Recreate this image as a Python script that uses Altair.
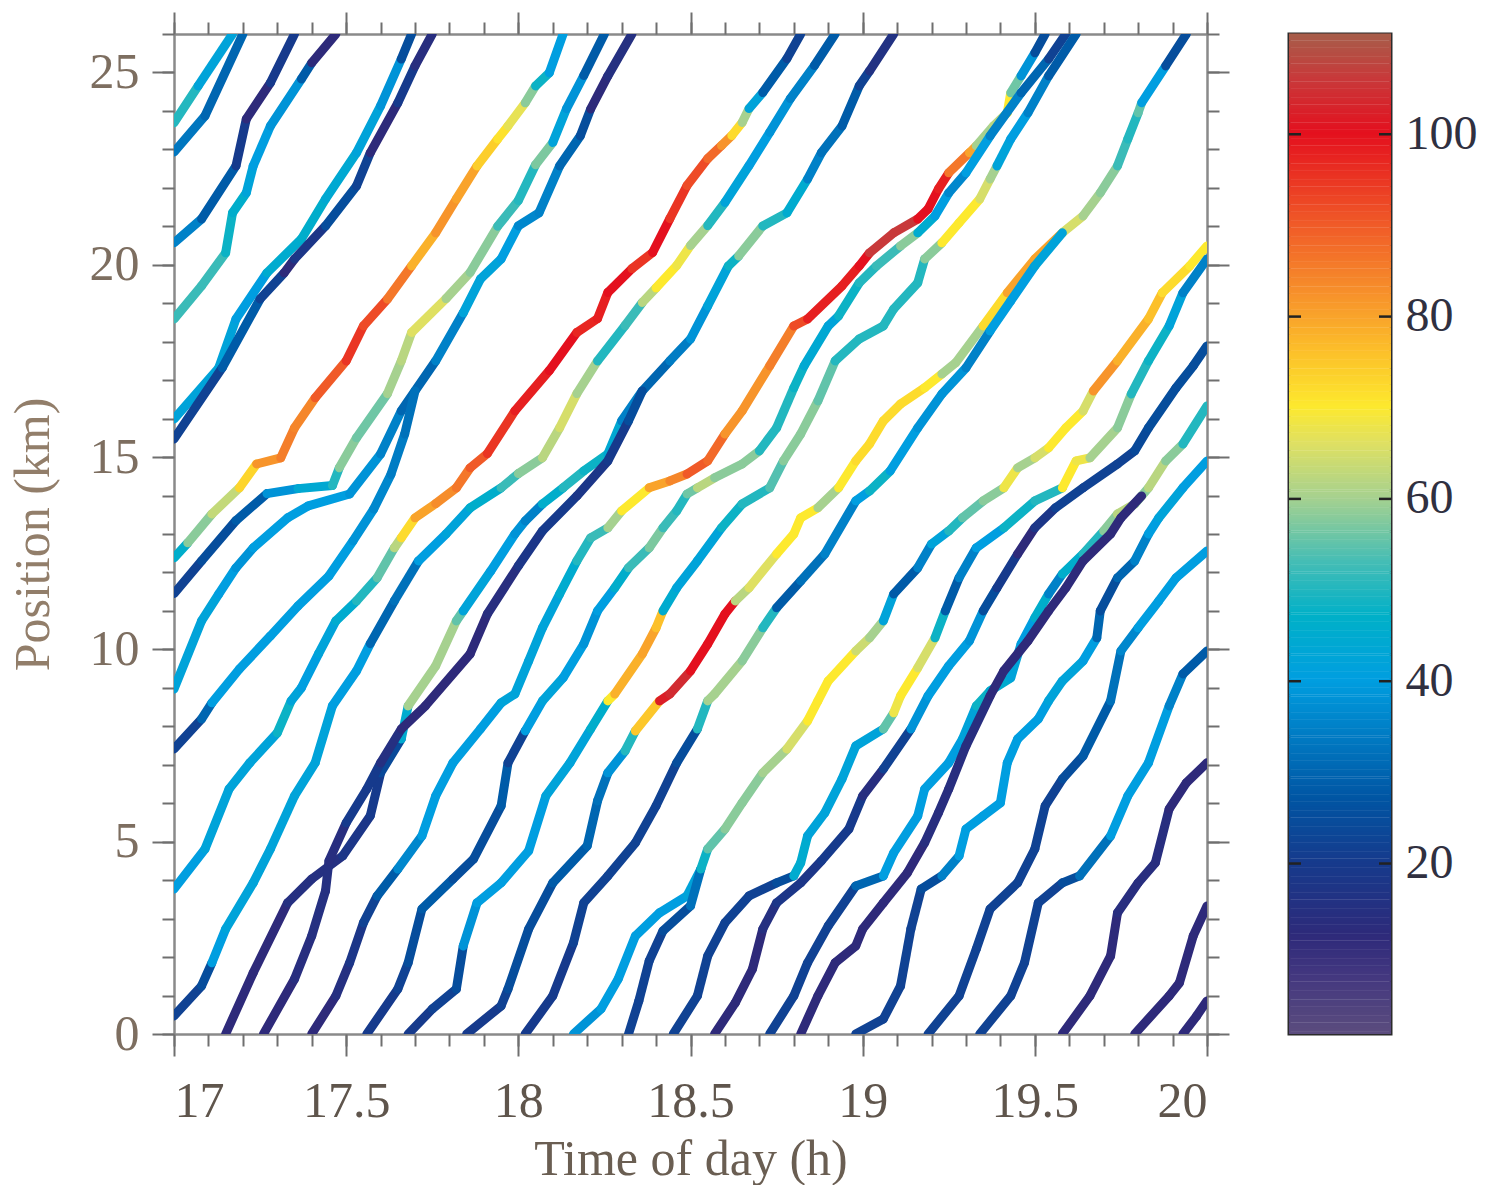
import altair as alt
import pandas as pd
import numpy as np

# ---------------- data: trajectories as (time of day [h], position [km], value) ----------------
L1 = [(17.00, 23.69, 50), (17.07, 24.65, 42), (17.17, 26.0, 38)]
L2 = [(17.00, 22.93, 33), (17.09, 23.87, 30), (17.20, 26.0, 25)]
L3 = [(17.00, 20.57, 35), (17.08, 21.19, 28), (17.18, 22.57, 20), (17.21, 23.79, 12), (17.28, 24.73, 20), (17.35, 26.0, 12)]
L4 = [(17.00, 18.59, 52), (17.08, 19.45, 52), (17.15, 20.31, 48), (17.17, 21.35, 46), (17.21, 21.87, 42), (17.23, 22.57, 40),
      (17.28, 23.61, 38), (17.37, 24.83, 28), (17.40, 25.25, 12), (17.47, 26.0, 12)]
L5 = [(17.00, 15.99, 42), (17.13, 17.32, 42), (17.18, 18.59, 40), (17.27, 19.79, 45), (17.37, 20.67, 46), (17.44, 21.71, 44),
      (17.53, 22.91, 42), (17.60, 24.13, 38), (17.66, 25.35, 25), (17.69, 26.0, 22)]
L6 = [(17.00, 15.47, 22), (17.14, 17.32, 28), (17.25, 19.11, 22), (17.32, 19.79, 12), (17.35, 20.15, 18), (17.44, 21.01, 25),
      (17.53, 22.05, 22), (17.57, 22.91, 12), (17.65, 24.21, 20), (17.70, 25.17, 14), (17.75, 26.0, 12)]
L7 = [(17.00, 12.38, 46), (17.04, 12.77, 58), (17.11, 13.52, 63), (17.19, 14.20, 73), (17.24, 14.82, 82), (17.31, 14.98, 85),
      (17.35, 15.76, 84), (17.41, 16.54, 90), (17.50, 17.50, 95), (17.55, 18.41, 92), (17.62, 19.11, 86), (17.69, 19.97, 78),
      (17.76, 20.83, 82), (17.82, 21.71, 80), (17.88, 22.57, 74), (17.94, 23.27, 71), (17.97, 23.61, 67), (18.02, 24.21, 58),
      (18.05, 24.65, 48), (18.09, 24.99, 40), (18.13, 26.0, 26)]
L8 = [(17.00, 11.45, 22), (17.08, 12.30, 25), (17.18, 13.35, 28), (17.27, 14.05, 38), (17.36, 14.18, 44), (17.46, 14.26, 50),
      (17.48, 14.72, 58), (17.53, 15.50, 56), (17.62, 16.65, 60), (17.66, 17.50, 62), (17.69, 18.24, 66), (17.79, 19.12, 60),
      (17.86, 19.80, 58), (17.94, 21.00, 52), (18.00, 21.67, 50), (18.05, 22.60, 57), (18.10, 23.18, 42), (18.14, 24.06, 38),
      (18.19, 24.92, 28), (18.25, 26.0, 14)]
L9 = [(17.00, 8.97, 42), (17.08, 10.74, 42), (17.13, 11.44, 40), (17.18, 12.12, 38), (17.23, 12.64, 40), (17.33, 13.42, 40),
      (17.39, 13.73, 40), (17.51, 14.04, 38), (17.60, 15.08, 35), (17.66, 16.20, 30), (17.76, 17.50, 35), (17.84, 18.75, 42),
      (17.89, 19.63, 42), (17.95, 20.15, 40), (18.00, 21.01, 36), (18.06, 21.35, 35), (18.12, 22.57, 30), (18.18, 23.35, 25),
      (18.21, 24.05, 12), (18.26, 24.91, 15), (18.33, 26.0, 12)]
L9b = [(17.00, 7.41, 22), (17.08, 8.19, 30), (17.11, 8.61, 40), (17.19, 9.49, 40), (17.28, 10.35, 40), (17.36, 11.13, 40),
       (17.45, 11.91, 40), (17.52, 12.82, 38), (17.58, 13.65, 36), (17.63, 14.55, 34), (17.67, 15.60, 32), (17.70, 16.72, 30)]
L10 = [(17.00, 3.77, 40), (17.09, 4.81, 42), (17.16, 6.37, 42), (17.22, 7.05, 42), (17.30, 7.83, 48), (17.34, 8.66, 42),
       (17.37, 9.00, 40), (17.42, 9.89, 42), (17.47, 10.74, 45), (17.53, 11.26, 50), (17.59, 11.86, 55), (17.64, 12.64, 62),
       (17.66, 12.90, 72), (17.70, 13.42, 80), (17.76, 13.79, 83), (17.82, 14.20, 86), (17.86, 14.72, 90), (17.91, 15.09, 95),
       (17.99, 16.20, 98), (18.09, 17.25, 100), (18.17, 18.24, 97), (18.23, 18.60, 98), (18.26, 19.28, 100), (18.33, 19.90, 95),
       (18.39, 20.32, 100), (18.44, 21.20, 95), (18.49, 22.06, 92), (18.55, 22.76, 88), (18.59, 23.10, 82), (18.62, 23.36, 72),
       (18.65, 23.70, 60), (18.67, 24.06, 42), (18.71, 24.48, 28), (18.78, 25.36, 22), (18.82, 26.0, 12)]
L11 = [(17.00, 0.47, 22), (17.08, 1.25, 25), (17.11, 1.85, 40), (17.15, 2.73, 42), (17.23, 3.93, 42), (17.28, 4.81, 42),
       (17.35, 6.19, 42), (17.41, 7.05, 42), (17.46, 8.53, 40), (17.53, 9.44, 40), (17.57, 10.15, 30), (17.64, 11.26, 32),
       (17.71, 12.30, 40), (17.79, 13.00, 42), (17.86, 13.68, 46), (17.95, 14.20, 52), (18.00, 14.57, 58), (18.07, 14.98, 62),
       (18.12, 15.76, 65), (18.17, 16.65, 60), (18.23, 17.50, 50), (18.31, 18.42, 52), (18.36, 19.02, 62), (18.40, 19.40, 70),
       (18.46, 19.98, 68), (18.50, 20.50, 60), (18.55, 21.02, 50), (18.60, 21.62, 42), (18.67, 22.58, 40), (18.73, 23.44, 38),
       (18.79, 24.32, 35), (18.86, 25.18, 28), (18.92, 26.0, 22)]
L12 = [(17.15, 0.0, 12), (17.23, 1.59, 12), (17.33, 3.41, 15), (17.40, 4.03, 15), (17.49, 4.63, 18), (17.57, 5.67, 20),
       (17.60, 6.79, 24), (17.66, 7.67, 45), (17.68, 8.53, 60), (17.76, 9.57, 60), (17.82, 10.74, 55), (17.84, 11.00, 42),
       (17.92, 12.04, 40), (17.99, 13.00, 38), (18.02, 13.34, 35), (18.07, 13.78, 46), (18.13, 14.20, 50), (18.19, 14.64, 48),
       (18.26, 15.08, 44), (18.30, 15.94, 35), (18.36, 16.72, 30), (18.44, 17.50, 34), (18.50, 18.07, 38), (18.55, 18.93, 42),
       (18.61, 19.97, 48), (18.64, 20.23, 58), (18.71, 21.01, 50), (18.78, 21.35, 45), (18.84, 22.23, 35), (18.88, 22.91, 32),
       (18.94, 23.61, 28), (18.99, 24.65, 22), (19.02, 25.04, 16), (19.09, 26.0, 12)]
L12b = [(17.26, 0.0, 12), (17.35, 1.43, 14), (17.40, 2.55, 15), (17.44, 3.72, 15), (17.45, 4.50, 14), (17.50, 5.49, 20),
        (17.56, 6.37, 20), (17.60, 7.05, 15), (17.66, 7.93, 12), (17.73, 8.53, 12), (17.86, 9.88, 12), (17.91, 10.92, 14),
        (18.00, 12.17, 18), (18.07, 13.08, 20), (18.17, 13.99, 18), (18.26, 14.90, 20), (18.32, 15.94, 25), (18.36, 16.72, 30)]
L13 = [(17.40, 0.0, 12), (17.47, 0.99, 15), (17.51, 1.85, 18), (17.55, 2.89, 22), (17.59, 3.59, 28), (17.65, 4.29, 36),
       (17.72, 5.15, 40), (17.76, 6.19, 40), (17.81, 7.05, 40), (17.89, 7.93, 40), (17.95, 8.61, 42), (17.99, 8.84, 42),
       (18.03, 9.70, 42), (18.07, 10.56, 42), (18.12, 11.44, 45), (18.17, 12.30, 50), (18.21, 12.90, 52), (18.26, 13.16, 60),
       (18.30, 13.60, 70), (18.38, 14.20, 80), (18.44, 14.38, 84), (18.49, 14.56, 90), (18.55, 14.90, 88), (18.60, 15.60, 82),
       (18.65, 16.20, 82), (18.73, 17.37, 85), (18.80, 18.41, 92), (18.84, 18.59, 98), (18.94, 19.45, 98), (18.99, 19.97, 100),
       (19.02, 20.31, 106), (19.09, 20.83, 106), (19.16, 21.19, 100), (19.19, 21.45, 100), (19.22, 21.97, 98), (19.25, 22.39, 86),
       (19.31, 22.91, 80), (19.33, 23.09, 60), (19.38, 23.61, 62), (19.42, 23.95, 70), (19.43, 24.47, 56), (19.46, 24.91, 38),
       (19.50, 25.51, 25), (19.53, 26.0, 12)]
L14 = [(17.56, 0.0, 20), (17.65, 1.17, 22), (17.68, 1.85, 25), (17.72, 3.25, 28), (17.81, 4.03, 25), (17.87, 4.55, 25),
       (17.95, 5.93, 28), (17.97, 7.05, 22), (18.02, 7.88, 40), (18.07, 8.66, 42), (18.13, 9.26, 40), (18.19, 10.14, 38),
       (18.23, 11.00, 40), (18.28, 11.60, 46), (18.32, 12.12, 52), (18.38, 12.64, 57), (18.42, 13.16, 52), (18.46, 13.60, 50),
       (18.49, 14.04, 56), (18.52, 14.20, 62), (18.57, 14.46, 58), (18.65, 14.82, 58), (18.70, 15.16, 50), (18.75, 15.76, 50),
       (18.80, 16.80, 48), (18.83, 17.37, 44), (18.90, 18.41, 42), (18.93, 18.67, 48), (18.99, 19.53, 50), (19.04, 19.97, 52),
       (19.11, 20.49, 58), (19.16, 20.83, 45), (19.21, 21.27, 40), (19.25, 21.87, 36), (19.30, 22.39, 40), (19.37, 23.35, 35),
       (19.46, 24.47, 30), (19.54, 25.35, 22), (19.59, 26.0, 12)]
L15 = [(17.68, 0.0, 20), (17.75, 0.65, 22), (17.82, 1.17, 25), (17.84, 2.29, 38), (17.88, 3.41, 40), (17.95, 3.93, 40),
       (18.03, 4.76, 40), (18.08, 6.19, 42), (18.15, 7.05, 42), (18.21, 7.93, 46), (18.26, 8.66, 70), (18.28, 8.84, 78),
       (18.36, 9.88, 80), (18.40, 10.56, 76), (18.42, 11.00, 45), (18.46, 11.60, 42), (18.52, 12.30, 42), (18.59, 13.16, 48),
       (18.65, 13.78, 50), (18.73, 14.20, 54), (18.77, 14.90, 58), (18.82, 15.60, 58), (18.87, 16.46, 55), (18.92, 17.50, 50),
       (18.99, 18.07, 50), (19.06, 18.41, 50), (19.09, 18.85, 50), (19.16, 19.53, 50), (19.18, 20.15, 58), (19.23, 20.57, 70),
       (19.28, 21.09, 70), (19.34, 21.71, 65), (19.37, 22.23, 60), (19.39, 22.57, 42), (19.43, 23.27, 40), (19.48, 23.95, 35),
       (19.54, 24.91, 28), (19.62, 26.0, 12)]
L16 = [(17.85, 0.0, 20), (17.95, 0.73, 22), (17.97, 1.17, 25), (18.03, 2.73, 25), (18.10, 3.93, 28), (18.20, 4.89, 30),
       (18.23, 6.06, 32), (18.26, 6.79, 38), (18.31, 7.36, 50), (18.34, 7.88, 75), (18.41, 8.66, 102), (18.44, 8.84, 104),
       (18.50, 9.44, 100), (18.55, 10.14, 100), (18.60, 10.92, 100), (18.63, 11.26, 62), (18.67, 11.60, 66), (18.75, 12.48, 70),
       (18.80, 13.00, 70), (18.82, 13.42, 70), (18.87, 13.68, 60), (18.93, 14.20, 70), (18.98, 14.90, 72), (19.02, 15.34, 72),
       (19.06, 15.94, 72), (19.11, 16.38, 72), (19.18, 16.80, 70), (19.23, 17.16, 60), (19.27, 17.45, 60), (19.35, 18.41, 72),
       (19.42, 19.27, 80), (19.50, 20.15, 80), (19.58, 20.83, 65), (19.64, 21.27, 60), (19.69, 21.87, 58), (19.74, 22.57, 52),
       (19.77, 23.27, 50), (19.80, 23.95, 55), (19.81, 24.21, 40), (19.88, 25.17, 25), (19.94, 26.0, 12)]
L16b = [(18.02, 0.0, 20), (18.10, 0.99, 20), (18.16, 2.37, 22), (18.19, 3.41, 22), (18.26, 4.11, 22), (18.34, 4.97, 22),
        (18.40, 5.93, 22), (18.46, 7.05, 25), (18.52, 7.93, 50), (18.55, 8.66, 60), (18.57, 8.84, 60), (18.65, 9.70, 58),
        (18.71, 10.56, 50), (18.75, 11.08, 28), (18.82, 11.78, 32), (18.89, 12.48, 35), (18.98, 13.86, 40), (19.02, 14.12, 48),
        (19.08, 14.64, 40), (19.16, 15.76, 38), (19.23, 16.64, 38), (19.30, 17.32, 35), (19.37, 18.28, 40), (19.43, 19.06, 40),
        (19.50, 19.97, 42), (19.58, 20.83, 65)]
L17b = [(18.16, 0.0, 38), (18.24, 0.65, 40), (18.29, 1.43, 40), (18.34, 2.55, 40), (18.41, 3.15, 40), (18.49, 3.59, 42),
        (18.53, 4.29, 48)]
L17 = [(18.32, 0.0, 22), (18.35, 0.86, 22), (18.38, 1.90, 22), (18.42, 2.68, 25), (18.50, 3.33, 32), (18.53, 4.29, 48),
       (18.55, 4.81, 55), (18.60, 5.33, 58), (18.65, 6.01, 58), (18.71, 6.79, 60), (18.78, 7.41, 65), (18.84, 8.14, 70),
       (18.87, 8.66, 70), (18.90, 9.18, 70), (18.98, 9.96, 64), (19.02, 10.30, 60), (19.06, 10.74, 42), (19.09, 11.44, 28),
       (19.16, 12.12, 35), (19.20, 12.74, 42), (19.25, 13.08, 50), (19.29, 13.42, 55), (19.35, 13.86, 58), (19.41, 14.20, 68),
       (19.45, 14.72, 60), (19.50, 14.98, 65), (19.54, 15.24, 70), (19.59, 15.76, 70), (19.64, 16.20, 65), (19.67, 16.72, 82),
       (19.74, 17.50, 78), (19.83, 18.59, 76), (19.87, 19.27, 72), (19.95, 19.97, 70), (20.0, 20.49, 70)]
L18 = [(18.45, 0.0, 22), (18.52, 0.99, 22), (18.55, 2.03, 22), (18.60, 2.89, 22), (18.67, 3.59, 22), (18.75, 3.93, 25),
       (18.80, 4.11, 45), (18.82, 4.45, 45), (18.84, 5.15, 42), (18.89, 5.75, 42), (18.94, 6.63, 42), (18.98, 7.49, 42),
       (19.06, 7.93, 55), (19.09, 8.35, 68), (19.11, 8.79, 70), (19.16, 9.52, 65), (19.21, 10.30, 48), (19.24, 11.00, 28),
       (19.28, 11.86, 35), (19.33, 12.64, 40), (19.41, 13.16, 48), (19.50, 13.86, 50), (19.58, 14.20, 70), (19.62, 14.90, 68),
       (19.66, 14.98, 60), (19.74, 15.76, 58), (19.78, 16.64, 50), (19.83, 17.50, 48), (19.89, 18.41, 42), (19.93, 19.27, 35),
       (20.0, 20.15, 35)]
L19 = [(18.57, 0.0, 12), (18.63, 0.81, 12), (18.68, 1.69, 12), (18.71, 2.73, 15), (18.75, 3.41, 18), (18.82, 3.93, 18),
       (18.88, 4.50, 20), (18.96, 5.33, 20), (19.00, 6.19, 14), (19.06, 6.89, 22), (19.14, 7.93, 38), (19.19, 8.79, 40),
       (19.25, 9.57, 40), (19.31, 10.22, 38), (19.35, 11.00, 25), (19.39, 11.60, 20), (19.45, 12.48, 12), (19.50, 13.16, 18),
       (19.56, 13.68, 22), (19.64, 14.20, 22), (19.74, 14.82, 22), (19.79, 15.16, 24), (19.83, 15.76, 25), (19.91, 16.80, 25),
       (19.96, 17.37, 25), (20.0, 17.89, 25)]
L20 = [(18.73, 0.0, 22), (18.80, 0.99, 22), (18.84, 1.85, 22), (18.90, 2.81, 22), (18.98, 3.85, 30), (19.06, 4.11, 40),
       (19.09, 4.71, 40), (19.16, 5.67, 40), (19.18, 6.37, 40), (19.25, 7.05, 40), (19.29, 7.67, 42), (19.33, 8.53, 48),
       (19.37, 8.92, 45), (19.43, 9.26, 42), (19.46, 10.14, 40), (19.50, 10.82, 46), (19.54, 11.44, 35), (19.58, 11.96, 46),
       (19.64, 12.48, 50), (19.70, 13.08, 58), (19.74, 13.52, 62), (19.79, 13.78, 58), (19.83, 14.20, 62), (19.88, 14.90, 58),
       (19.93, 15.34, 50), (20.0, 16.33, 48)]
L20b = [(18.82, 0.0, 12), (18.87, 0.99, 12), (18.92, 1.85, 12), (18.98, 2.29, 12), (19.00, 2.73, 12), (19.06, 3.41, 12),
        (19.13, 4.19, 12), (19.18, 4.97, 14), (19.22, 5.75, 14), (19.25, 6.37, 14), (19.30, 7.49, 14), (19.37, 8.79, 12),
        (19.41, 9.44, 12), (19.48, 10.22, 12), (19.54, 11.00, 12), (19.59, 11.60, 12), (19.64, 12.30, 12), (19.72, 13.00, 12),
        (19.75, 13.42, 12), (19.81, 13.99, 12)]
L21 = [(18.98, 0.0, 22), (19.06, 0.39, 22), (19.11, 1.25, 22), (19.14, 2.73, 22), (19.17, 3.77, 25), (19.23, 4.11, 35),
       (19.28, 4.63, 40), (19.30, 5.33, 40), (19.35, 5.67, 40), (19.40, 6.01, 40), (19.42, 7.05, 40), (19.45, 7.67, 40),
       (19.51, 8.19, 40), (19.54, 8.66, 42), (19.58, 9.18, 42), (19.64, 9.70, 40), (19.68, 10.30, 30), (19.69, 11.00, 25),
       (19.74, 11.86, 30), (19.79, 12.30, 35), (19.83, 13.00, 40), (19.86, 13.42, 42), (19.93, 14.20, 40), (20.0, 14.90, 40)]
L22 = [(19.19, 0.0, 22), (19.28, 0.99, 22), (19.33, 2.21, 22), (19.37, 3.25, 22), (19.45, 3.93, 22), (19.50, 4.81, 22),
       (19.53, 5.93, 22), (19.58, 6.63, 25), (19.64, 7.23, 28), (19.72, 8.66, 32), (19.75, 9.96, 36), (19.80, 10.56, 40),
       (19.86, 11.26, 40), (19.91, 11.86, 40), (20.0, 12.56, 42)]
L23 = [(19.34, 0.0, 22), (19.43, 0.99, 22), (19.47, 1.85, 22), (19.51, 3.41, 22), (19.58, 3.93, 25), (19.63, 4.11, 32),
       (19.72, 5.15, 40), (19.77, 6.19, 40), (19.83, 7.05, 40), (19.89, 8.53, 35), (19.93, 9.36, 28), (20.0, 9.96, 25)]
L24 = [(19.58, 0.0, 12), (19.66, 0.99, 12), (19.72, 2.03, 12), (19.74, 3.15, 14), (19.80, 3.93, 14), (19.85, 4.45, 14),
       (19.89, 5.85, 12), (19.94, 6.53, 12), (20.0, 7.05, 12)]
L25 = [(19.79, 0.0, 12), (19.89, 0.99, 12), (19.92, 1.33, 12), (19.96, 2.55, 12), (20.0, 3.33, 12)]
L26 = [(19.93, 0.0, 12), (19.97, 0.47, 12), (20.0, 0.86, 12)]

trajectories = [L1, L2, L3, L4, L5, L6, L7, L8, L9, L9b, L10, L11, L12, L12b, L13, L14, L15, L16, L16b,
                L17b, L17, L18, L19, L20, L20b, L21, L22, L23, L24, L25, L26]

x_major = [17, 17.5, 18, 18.5, 19, 19.5, 20]
x_minor = [17.0, 17.1, 17.2, 17.3, 17.4, 17.5, 17.6, 17.7, 17.8, 17.9, 18.0, 18.1, 18.2, 18.3, 18.4, 18.5,
           18.6, 18.7, 18.8, 18.9, 19.0, 19.1, 19.2, 19.3, 19.4, 19.5, 19.6, 19.7, 19.8, 19.9, 20.0]
y_major = [0, 5, 10, 15, 20, 25]
y_minor = [0, 1, 2, 3, 4, 5, 6, 7, 8, 9, 10, 11, 12, 13, 14, 15, 16, 17, 18, 19, 20, 21, 22, 23, 24, 25, 26]
cb_ticks = [20, 40, 60, 80, 100]
cb_min, cb_max = 1.3, 111.0

# colour map
cmap_stops = [1.3, 8, 12, 20, 27, 33, 40, 47, 53, 60, 66, 70, 76, 82, 90, 100, 106, 111]
cmap_colors = ["#5b4c7e", "#41367f", "#2e2a7a", "#163a8c", "#0055a3", "#0076bf", "#009ee0", "#00b0c8",
               "#45bdb5", "#a6d18f", "#dfe062", "#fde92e", "#fcc02a", "#f7942b", "#f05a28", "#e4101e",
               "#c8393a", "#a65e4a"]

# ---------------- build segments ----------------
rows = []
for k, tr in enumerate(trajectories):
    for i in range(len(tr) - 1):
        t0, y0, v = tr[i]
        t1, y1, _ = tr[i + 1]
        rows.append({"traj": k, "seg": i, "t": t0, "y": y0, "t2": t1, "y2": y1, "v": v})
seg = pd.DataFrame(rows)

FONT = "Liberation Serif"
TICK_C = "#6f6f6f"
DOM_C = "#8a8a8a"

xs = alt.Scale(domain=[17, 20], nice=False, zero=False)
ys = alt.Scale(domain=[0, 26], nice=False, zero=False)
cscale = alt.Scale(domain=cmap_stops, range=cmap_colors, interpolate="rgb")

common = dict(tickColor=TICK_C, tickWidth=2, domainColor=DOM_C, domainWidth=2.5, grid=False,
              labelFont=FONT, titleFont=FONT, labelFontSize=50, titleFontSize=50, titleFontWeight="normal")

base = alt.Chart(seg)

lines = base.mark_rule(strokeWidth=9, strokeCap="round", clip=True).encode(
    x=alt.X("t:Q", scale=xs, axis=alt.Axis(orient="bottom", values=x_major, tickSize=22, format="~g",
                                            labelPadding=20, labelColor="#5f554c", title="Time of day (h)",
                                            titleColor="#6a5e52", titlePadding=8, labelOverlap=False, **common)),
    x2="t2:Q",
    y=alt.Y("y:Q", scale=ys, axis=alt.Axis(orient="left", values=y_major, tickSize=22, format="d",
                                            labelPadding=13, labelColor="#7d6e60", title="Position (km)",
                                            titleColor="#927e6a", titlePadding=31, labelOverlap=False, **common)),
    y2="y2:Q",
    color=alt.Color("v:Q", scale=cscale, legend=None),
)


def ghost(xaxis, yaxis):
    return base.mark_point(opacity=0, size=1).encode(
        x=alt.X("t:Q", scale=xs, axis=xaxis),
        y=alt.Y("y:Q", scale=ys, axis=yaxis),
    )


minor_bl = ghost(
    alt.Axis(orient="bottom", values=x_minor, tickSize=12, labels=False, domain=False, title=None,
             tickColor=TICK_C, tickWidth=2, grid=False),
    alt.Axis(orient="left", values=y_minor, tickSize=12, labels=False, domain=False, title=None,
             tickColor=TICK_C, tickWidth=2, grid=False),
)
major_tr = ghost(
    alt.Axis(orient="top", values=x_major, tickSize=22, labels=False, title=None,
             tickColor=TICK_C, tickWidth=2, domainColor=DOM_C, domainWidth=2.5, grid=False),
    alt.Axis(orient="right", values=y_major, tickSize=22, labels=False, title=None,
             tickColor=TICK_C, tickWidth=2, domainColor=DOM_C, domainWidth=2.5, grid=False),
)
minor_tr = ghost(
    alt.Axis(orient="top", values=x_minor, tickSize=12, labels=False, domain=False, title=None,
             tickColor=TICK_C, tickWidth=2, grid=False),
    alt.Axis(orient="right", values=y_minor, tickSize=12, labels=False, domain=False, title=None,
             tickColor=TICK_C, tickWidth=2, grid=False),
)

main = alt.layer(lines, minor_bl, major_tr, minor_tr).resolve_axis(
    x="independent", y="independent").properties(width=1033, height=1000)

# ---------------- colour bar ----------------
CBW = 102
levels = np.linspace(cb_min, cb_max, 440)
cb_df = pd.DataFrame({"v": levels[:-1], "v2": levels[1:] + 0.05})
cbs = alt.Scale(domain=[cb_min, cb_max], nice=False, zero=False)

bar = alt.Chart(cb_df).mark_rect().encode(
    y=alt.Y("v:Q", scale=cbs, axis=alt.Axis(orient="right", values=cb_ticks, tickSize=0, domain=False,
                                            labelPadding=14, format="d", title=None, grid=False,
                                            labelFont=FONT, labelFontSize=48, labelColor="#303040")),
    y2="v2:Q",
    x=alt.value(0),
    x2=alt.value(CBW),
    color=alt.Color("v:Q", scale=cscale, legend=None),
)
tick_df = pd.DataFrame({"v": cb_ticks})
tick_l = alt.Chart(tick_df).mark_rule(color="#222222", strokeWidth=2.5).encode(
    y=alt.Y("v:Q", scale=cbs, axis=None), x=alt.value(0), x2=alt.value(12))
tick_r = alt.Chart(tick_df).mark_rule(color="#222222", strokeWidth=2.5).encode(
    y=alt.Y("v:Q", scale=cbs, axis=None), x=alt.value(CBW - 12), x2=alt.value(CBW))

cbar = alt.layer(bar, tick_l, tick_r).resolve_axis(y="independent").properties(
    width=CBW, height=1000, view=alt.ViewBackground(stroke="#2b2b2b", strokeWidth=3))

chart = alt.hconcat(main, cbar, spacing=82, bounds="flush").properties(
    padding={"left": 8, "top": 11, "right": 5, "bottom": 5},
    background="white",
).configure_view(strokeWidth=0)

chart.save("out.html", embed_options={"renderer": "svg", "actions": False})
